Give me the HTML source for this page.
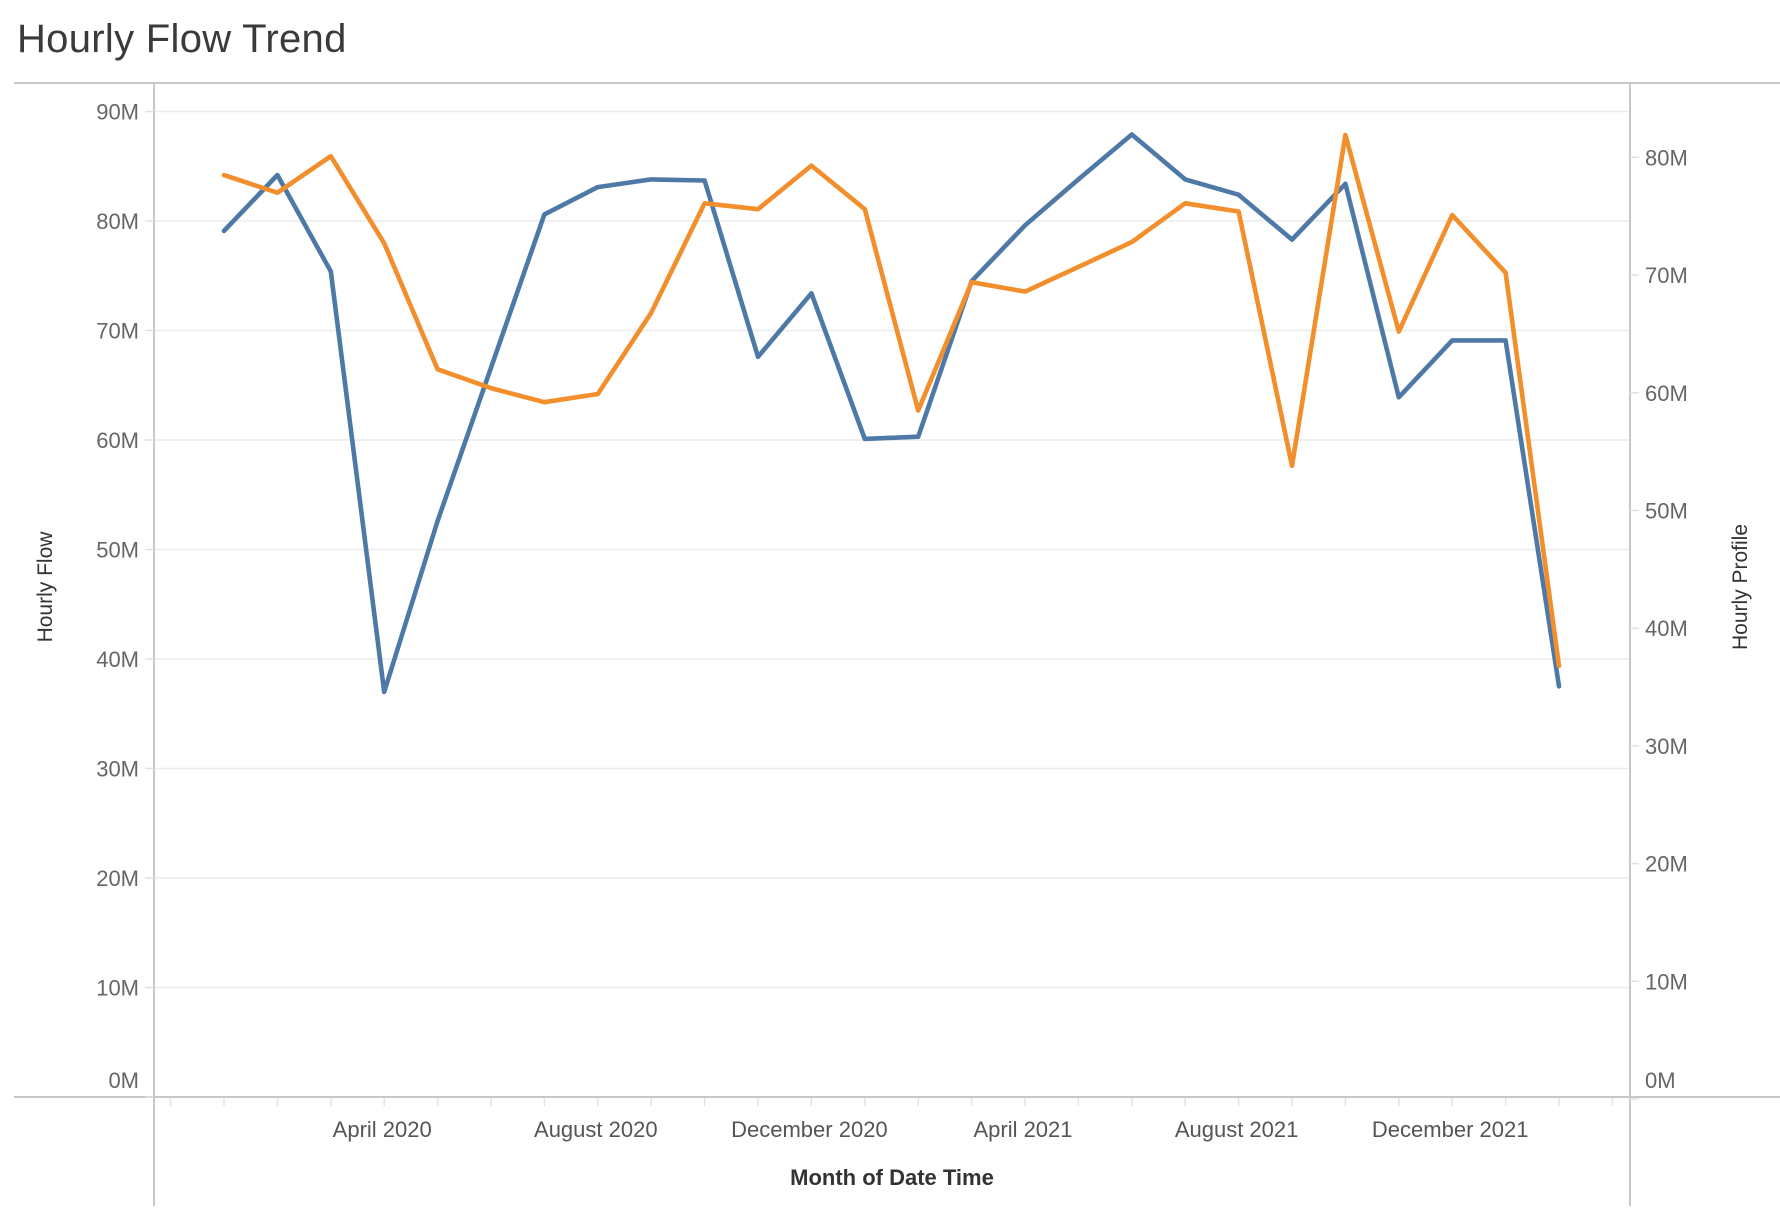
<!DOCTYPE html>
<html><head><meta charset="utf-8"><style>
html,body{margin:0;padding:0;background:#fff;}
svg{display:block;font-family:"Liberation Sans",sans-serif;}
</style></head><body>
<svg id="chart" width="1780" height="1214" viewBox="0 0 1780 1214" xmlns="http://www.w3.org/2000/svg">
<text x="17" y="52" font-size="40" fill="#3a3a3a" font-weight="300" letter-spacing="0.3">Hourly Flow Trend</text>
<g id="frame" stroke="#c8c8c8" stroke-width="2">
<line x1="14" y1="83" x2="1780" y2="83"/>
<line x1="14" y1="1097" x2="1780" y2="1097"/>
<line x1="154" y1="83" x2="154" y2="1206"/>
<line x1="1630" y1="83" x2="1630" y2="1206"/>
</g>
<g id="grid"></g>
<g id="leftTicks"></g>
<g id="rightTicks"></g>
<g id="xTicks"></g>
<g id="series"></g>
<text transform="translate(52,587) rotate(-90)" text-anchor="middle" font-size="21" fill="#333">Hourly Flow</text>
<text transform="translate(1747,587) rotate(-90)" text-anchor="middle" font-size="21" fill="#333">Hourly Profile</text>
<text x="892" y="1185" text-anchor="middle" font-size="22" fill="#333" font-weight="bold">Month of Date Time</text>
</svg>
<script>
const months = ["Jan 2020","Feb 2020","Mar 2020","Apr 2020","May 2020","Jun 2020","Jul 2020","Aug 2020","Sep 2020","Oct 2020","Nov 2020","Dec 2020","Jan 2021","Feb 2021","Mar 2021","Apr 2021","May 2021","Jun 2021","Jul 2021","Aug 2021","Sep 2021","Oct 2021","Nov 2021","Dec 2021","Jan 2022","Feb 2022"];
const hourlyFlow = [79.1,84.2,75.4,37.0,52.6,66.6,80.6,83.1,83.8,83.7,67.6,73.4,60.1,60.3,74.5,79.6,83.8,87.9,83.8,82.4,78.3,83.4,63.9,69.1,69.1,37.5];
const hourlyProfile = [78.5,77.0,80.1,72.7,62.0,60.4,59.2,59.9,66.8,76.1,75.6,79.3,75.6,58.5,69.4,68.6,70.7,72.8,76.1,75.4,53.8,81.9,65.2,75.1,70.2,36.8];
const leftTicks = [0,10,20,30,40,50,60,70,80,90];
const rightTicks = [0,10,20,30,40,50,60,70,80];
const xLabels = [[3,"April 2020"],[7,"August 2020"],[11,"December 2020"],[15,"April 2021"],[19,"August 2021"],[23,"December 2021"]];

const NS="http://www.w3.org/2000/svg";
const x0=224, dx=53.4;
function xScale(i){return x0+i*dx;}
function yLeft(v){return 1097-v*10.95;}
function yRight(v){return 1099-v*11.77;}
function mk(tag,attrs,parent){const e=document.createElementNS(NS,tag);for(const k in attrs)e.setAttribute(k,attrs[k]);parent.appendChild(e);return e;}

const grid=document.getElementById('grid');
const lt=document.getElementById('leftTicks');
leftTicks.forEach(v=>{
  const y=yLeft(v);
  if(v>0){const g=mk('line',{x1:155,x2:1629,y1:y,y2:y,stroke:'#ececec','stroke-width':1.5},grid);
  
  }
  mk('line',{x1:145,x2:154,y1:y,y2:y,stroke:'#e0e0e0','stroke-width':1.5},lt);
  const t=mk('text',{x:139,y:(v===0?y-9:y+8),'text-anchor':'end','font-size':22,fill:'#666'},lt);
  t.textContent=v+'M';
  
  
});
const rt=document.getElementById('rightTicks');
rightTicks.forEach(v=>{
  const y=yRight(v);
  mk('line',{x1:1630,x2:1639,y1:y,y2:y,stroke:'#e0e0e0','stroke-width':1.5},rt);
  const t=mk('text',{x:1645,y:(v===0?y-11:y+8),'font-size':22,fill:'#666'},rt);
  t.textContent=v+'M';
  
  
});
const xt=document.getElementById('xTicks');
for(let i=-1;i<=27;i++){
  const x=xScale(i);
  if(x<=156||x>=1628) continue;
  mk('line',{x1:x,x2:x,y1:1098,y2:1106,stroke:'#e3e3e3','stroke-width':1.5},xt);
}
xLabels.forEach(([i,l])=>{
  const t=mk('text',{x:xScale(i)-2,y:1137,'text-anchor':'middle','font-size':22,fill:'#555'},xt);
  t.textContent=l;
  
  
});
const s=document.getElementById('series');
function line(vals,f,color,name){
  const d=vals.map((v,i)=>(i?'L':'M')+xScale(i).toFixed(1)+','+f(v).toFixed(1)).join(' ');
  const p=mk('path',{d:d,fill:'none',stroke:color,'stroke-width':4.6,'stroke-linejoin':'round','stroke-linecap':'round'},s);
  
  
}
line(hourlyFlow,yLeft,'#4e79a7','hourly-flow-line');
line(hourlyProfile,yRight,'#f28e2b','hourly-profile-line');
</script>
</body></html>
